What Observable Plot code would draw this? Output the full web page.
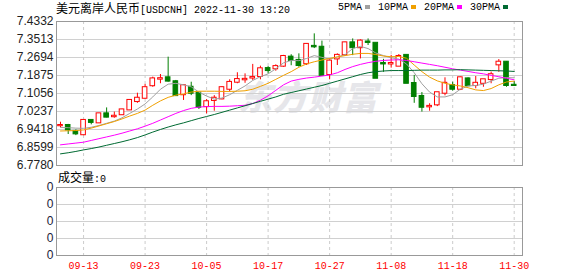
<!DOCTYPE html>
<html><head><meta charset="utf-8">
<script src="https://cdn.jsdelivr.net/npm/d3@7"></script>
<script src="https://cdn.jsdelivr.net/npm/@observablehq/plot@0.6"></script>
<style>
body{margin:0;background:#fff}
#wrap{position:relative;width:578px;height:276px;overflow:hidden;background:#fff}
.abs{position:absolute;white-space:nowrap}
.cjk{font-family:"Noto Sans CJK SC",sans-serif;font-size:12px}
.mono{font-family:"Liberation Mono",monospace;font-size:10px}
#title{left:56px;top:0px;line-height:16px;color:#000;z-index:3}
#legend{left:338px;top:0px;line-height:16px;z-index:3}
.sw{display:inline-block;width:5px;height:4px;margin:0 0 1px 3px;vertical-align:middle}
.lg{margin-left:8px}
#volname{left:58px;top:169px;line-height:16px;z-index:3}
#wm{left:238px;top:71px;font-family:"Noto Sans CJK SC",sans-serif;font-weight:900;font-size:34px;color:#e6e6ea;z-index:0;font-style:italic;letter-spacing:1px}
#mainp,#volp{position:absolute;left:0;z-index:1;line-height:0}
#mainp{top:0}
#volp{top:170px}
</style></head>
<body>
<div id="wrap">
  <div id="wm" class="abs">东方财富</div>
  <div id="title" class="abs"><span class="cjk">美元离岸人民币</span><span class="mono">[USDCNH] 2022-11-30 13:20</span></div>
  <div id="legend" class="abs mono"></div>
  <div id="volname" class="abs"><span class="cjk">成交量</span><span class="mono">:0</span></div>
  <div id="mainp"></div>
  <div id="volp"></div>
</div>
<script>
const dates = ["09-08","09-09","09-12","09-13","09-14","09-15","09-16","09-19","09-20","09-21","09-22","09-23","09-26","09-27","09-28","09-29","09-30",
"10-03","10-04","10-05","10-06","10-07","10-10","10-11","10-12","10-13","10-14","10-17","10-18","10-19","10-20","10-21","10-24","10-25","10-26","10-27","10-28","10-31",
"11-01","11-02","11-03","11-04","11-07","11-08","11-09","11-10","11-11","11-14","11-15","11-16","11-17","11-18","11-21","11-22","11-23","11-24","11-25","11-28","11-29","11-30"];
const open  = [6.959,6.960,6.933,6.918,6.983,6.972,7.013,7.000,7.009,7.031,7.069,7.084,7.141,7.171,7.177,7.159,7.100,7.134,7.107,7.046,7.074,7.081,7.125,7.157,7.168,7.176,7.183,7.219,7.218,7.230,7.271,7.256,7.241,7.320,7.316,7.192,7.263,7.282,7.336,7.314,7.340,7.334,7.242,7.240,7.230,7.279,7.151,7.092,7.045,7.054,7.107,7.142,7.125,7.172,7.142,7.152,7.169,7.236,7.248,7.143];
const high  = [6.975,6.965,6.940,6.986,6.983,7.015,7.040,7.021,7.034,7.077,7.107,7.147,7.180,7.192,7.271,7.165,7.141,7.157,7.110,7.078,7.096,7.137,7.168,7.200,7.195,7.238,7.230,7.228,7.236,7.279,7.282,7.286,7.332,7.377,7.344,7.263,7.286,7.339,7.354,7.350,7.354,7.334,7.261,7.279,7.283,7.279,7.188,7.110,7.059,7.109,7.177,7.157,7.180,7.177,7.183,7.168,7.203,7.260,7.251,7.160];
const low   = [6.950,6.919,6.914,6.914,6.963,6.970,6.995,6.993,7.006,7.028,7.061,7.080,7.134,7.150,7.157,7.096,7.074,7.096,7.033,7.013,7.025,7.077,7.112,7.150,7.152,7.165,7.168,7.195,7.207,7.225,7.232,7.225,7.233,7.310,7.188,7.168,7.233,7.274,7.278,7.263,7.324,7.175,7.202,7.221,7.230,7.152,7.061,7.021,7.025,7.046,7.095,7.116,7.119,7.137,7.127,7.134,7.150,7.202,7.134,7.141];
const close = [6.960,6.940,6.922,6.983,6.974,7.013,6.998,7.002,7.031,7.074,7.084,7.132,7.172,7.173,7.162,7.096,7.141,7.107,7.043,7.068,7.084,7.132,7.156,7.169,7.170,7.178,7.218,7.210,7.228,7.274,7.256,7.233,7.329,7.318,7.188,7.253,7.279,7.336,7.314,7.344,7.338,7.175,7.240,7.242,7.274,7.152,7.092,7.043,7.047,7.109,7.152,7.125,7.177,7.141,7.152,7.168,7.191,7.248,7.142,7.142];
const ma5  = [6.951,6.950,6.948,6.947,6.952,6.960,6.970,6.980,6.995,7.015,7.035,7.058,7.090,7.125,7.148,7.152,7.145,7.136,7.112,7.094,7.080,7.085,7.100,7.120,7.140,7.165,7.182,7.195,7.218,7.245,7.256,7.255,7.265,7.278,7.270,7.262,7.272,7.282,7.310,7.320,7.310,7.290,7.278,7.268,7.262,7.240,7.200,7.150,7.112,7.090,7.090,7.100,7.125,7.140,7.142,7.148,7.162,7.175,7.178,7.177];
const ma10 = [6.935,6.936,6.937,6.940,6.948,6.958,6.968,6.978,6.990,7.003,7.015,7.030,7.052,7.072,7.088,7.098,7.104,7.112,7.116,7.116,7.116,7.115,7.115,7.116,7.118,7.125,7.138,7.152,7.170,7.188,7.205,7.225,7.240,7.250,7.258,7.265,7.272,7.278,7.284,7.288,7.288,7.283,7.276,7.273,7.274,7.266,7.235,7.205,7.180,7.163,7.152,7.145,7.140,7.132,7.122,7.119,7.128,7.145,7.158,7.162];
const ma20 = [6.872,6.876,6.880,6.884,6.892,6.900,6.908,6.916,6.925,6.935,6.945,6.957,6.970,6.985,7.000,7.015,7.028,7.038,7.044,7.046,7.047,7.047,7.048,7.050,7.052,7.060,7.075,7.095,7.120,7.145,7.162,7.170,7.176,7.180,7.185,7.190,7.200,7.215,7.228,7.238,7.246,7.252,7.256,7.258,7.259,7.256,7.250,7.244,7.238,7.232,7.225,7.218,7.212,7.206,7.200,7.195,7.188,7.182,7.175,7.168];
const ma30 = [6.831,6.836,6.842,6.849,6.855,6.862,6.870,6.878,6.886,6.895,6.905,6.917,6.930,6.942,6.953,6.963,6.972,6.982,6.992,7.001,7.010,7.020,7.030,7.040,7.050,7.060,7.070,7.080,7.090,7.102,7.110,7.118,7.126,7.134,7.142,7.152,7.162,7.172,7.182,7.192,7.200,7.205,7.208,7.210,7.210,7.210,7.211,7.212,7.212,7.212,7.213,7.213,7.214,7.213,7.212,7.211,7.210,7.209,7.208,7.206];
const yTicks = [6.7780,6.8599,6.9418,7.0237,7.1056,7.1875,7.2694,7.3513,7.4332];
const xTickDates = ["09-13","09-23","10-05","10-17","10-27","11-08","11-18","11-30"];
const volTicks = [0,1,2,3,4];
const volTickLabels = ["0","0","0","0","0"];
const maNames = ["5PMA","10PMA","20PMA","30PMA"];
const maColors = ["#a0a0a0","#f0a000","#ff00ff","#006a32"];

const RED = "#ff0000", GREEN = "#007f00";
const candles = dates.map((d, i) => ({
  i, date: d, open: open[i], high: high[i], low: low[i], close: close[i],
  up: close[i] >= open[i],
  ma5: ma5[i], ma10: ma10[i], ma20: ma20[i], ma30: ma30[i]
}));
const tickIdx = xTickDates.map(d => dates.indexOf(d));
const xDomain = [-0.52, 60.08];

document.getElementById("legend").innerHTML = maNames.map((n, k) =>
  `<span class="${k ? 'lg' : ''}">${n}</span><span class="sw" style="background:${maColors[k]}"></span>`).join("");

const maKeys = ["ma5","ma10","ma20","ma30"];
const mainChart = Plot.plot({
  width: 578, height: 178,
  marginLeft: 56, marginRight: 56, marginTop: 21, marginBottom: 13,
  style: {background: "transparent", fontFamily: "'Liberation Sans', Arial, sans-serif", fontSize: "12px", color: "#222", overflow: "visible"},
  x: {domain: xDomain, axis: null},
  y: {domain: [yTicks[0], yTicks[yTicks.length - 1]], axis: null, label: null},
  marks: [
    Plot.ruleY(yTicks, {stroke: "#d0d0d0"}),
    Plot.ruleX(tickIdx, {stroke: "#cccccc", strokeDasharray: "3,3"}),
    Plot.ruleX(candles, {x: "i", y1: "low", y2: "high", stroke: d => d.up ? RED : GREEN}),
    Plot.rect(candles, {
      x1: d => d.i - 0.3, x2: d => d.i + 0.3, y1: "open", y2: "close",
      fill: d => d.up ? "#fff" : GREEN, stroke: d => d.up ? RED : GREEN,
      insetTop: -0.5, insetBottom: -0.5
    }),
    ...maKeys.map((k, j) => Plot.line(candles, {x: "i", y: k, stroke: maColors[j], strokeWidth: 1})),
    Plot.axisY(yTicks, {tickSize: 0, tickPadding: 3, tickFormat: d => d.toFixed(4), fontSize: 12, fill: "#222", label: null}),
    Plot.frame({stroke: "#999"})
  ]
});
document.getElementById("mainp").appendChild(mainChart);

const volChart = Plot.plot({
  width: 578, height: 106,
  marginLeft: 56, marginRight: 56, marginTop: 17, marginBottom: 21,
  style: {background: "transparent", fontFamily: "'Liberation Sans', Arial, sans-serif", fontSize: "12px", color: "#222", overflow: "visible"},
  x: {domain: xDomain, label: null},
  y: {domain: [0, 4], axis: null, label: null},
  marks: [
    Plot.ruleY(volTicks, {stroke: "#d0d0d0"}),
    Plot.ruleX(tickIdx, {stroke: "#cccccc", strokeDasharray: "3,3"}),
    Plot.text(volTicks, {y: d => d, text: (d, k) => volTickLabels[k], frameAnchor: "left", textAnchor: "end", dx: -3, fontSize: 12, fill: "#1a1a3a"}),
    Plot.axisX(tickIdx, {tickSize: 0, tickPadding: 6, tickFormat: i => dates[i], fill: RED, fontFamily: "'Liberation Mono', monospace", fontSize: 10, label: null}),
    Plot.frame({stroke: "#999"})
  ]
});
document.getElementById("volp").appendChild(volChart);
</script>
</body></html>
